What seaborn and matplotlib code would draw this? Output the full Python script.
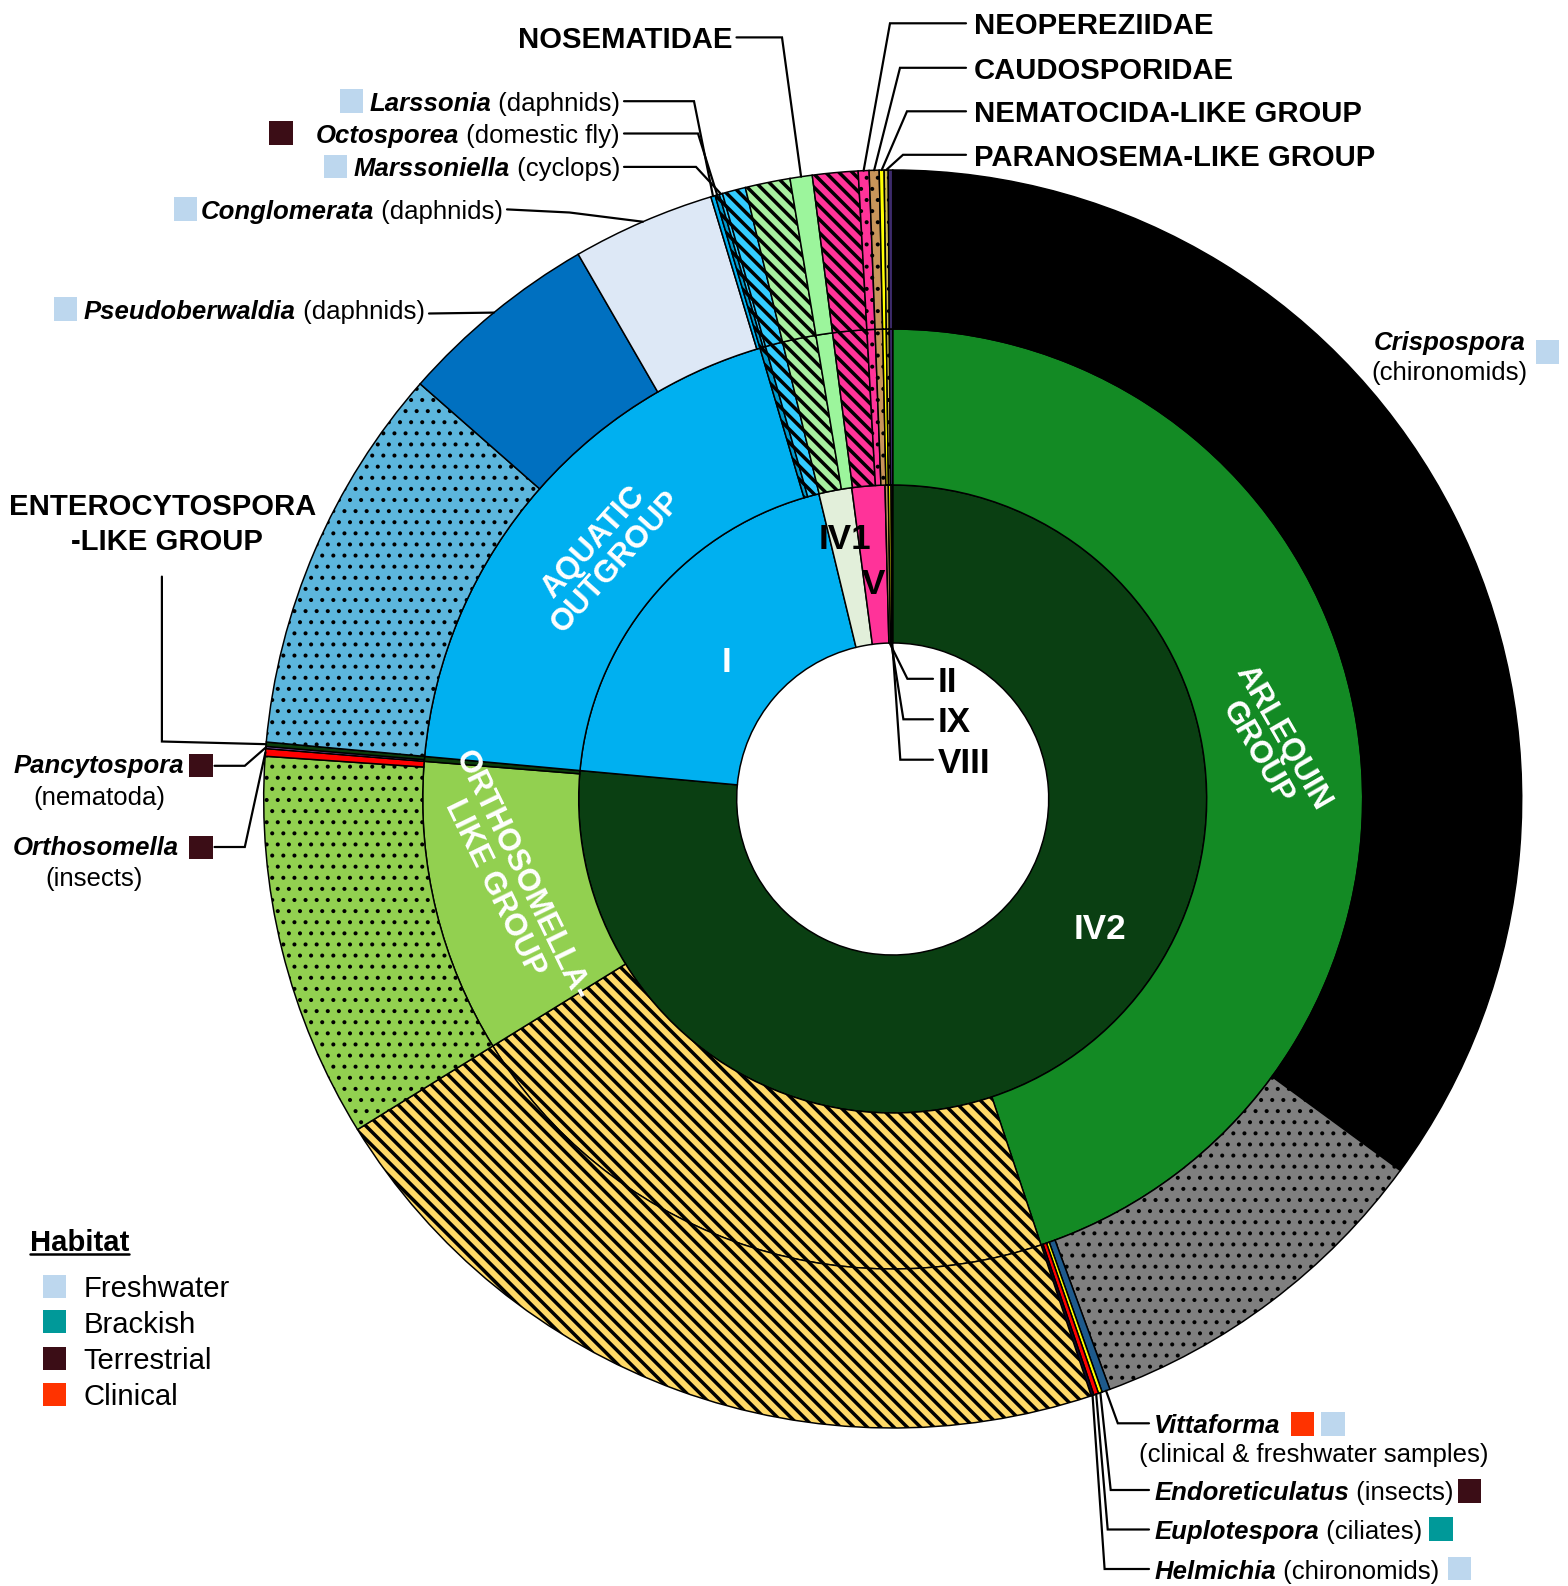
import numpy as np
import matplotlib.pyplot as plt
import seaborn as sns
from matplotlib.patches import Rectangle

# ---- data: slice widths in degrees, clockwise from 12 o'clock ----
inner_labels = ['IV2', 'I', 'IV1', 'V', 'II', 'IX', 'VIII']
inner_deg = [275.2, 71.2, 6.1, 6.1, 0.6, 0.5, 0.3]

middle_labels = ['ARLEQUIN GROUP', 'Yellow', 'ORTHOSOMELLA-LIKE GROUP',
                 'ENTEROCYTOSPORA-LIKE GROUP', 'AQUATIC OUTGROUP', 'Octosporea',
                 'Cyan', 'Green', 'NOSEMATIDAE', 'Pink', 'NEOPEREZIIDAE',
                 'CAUDOSPORIDAE', 'NEMATOCIDA-LIKE GROUP', 'PARANOSEMA-LIKE GROUP', 'Other']
middle_deg = [161.6, 76.7, 36.3, 0.6, 68.4, 0.7, 2.15, 4.15, 2.05, 4.2,
              1.0, 0.92, 0.45, 0.37, 0.41]

outer_labels = ['Crispospora', 'Grey', 'Vittaforma', 'Endoreticulatus', 'Euplotespora',
                'Helmichia', 'Yellow', 'GreenDots', 'Orthosomella', 'Pancytospora',
                'Enterocytospora', 'BlueDots', 'Pseudoberwaldia', 'Conglomerata',
                'Larssonia', 'Octosporea', 'Marssoniella', 'Cyan', 'Green', 'NOSEMATIDAE',
                'Pink', 'NEOPEREZIIDAE', 'CAUDOSPORIDAE', 'NEMATOCIDA-LIKE GROUP',
                'PARANOSEMA-LIKE GROUP', 'Other']
outer_deg = [126.2, 33.6, 0.75, 0.35, 0.45, 0.25, 76.7, 35.6, 0.7, 0.2, 0.4, 36.1,
             18.7, 13.2, 0.4, 0.4, 0.3, 2.15, 4.15, 2.05, 4.2, 1.0, 0.92, 0.45, 0.37, 0.41]

habitat_names = ['Freshwater', 'Brackish', 'Terrestrial', 'Clinical']
habitat_colors = ['#bdd7ee', '#009999', '#3b0d16', '#ff3300']

family_labels = ['NEOPEREZIIDAE', 'CAUDOSPORIDAE', 'NEMATOCIDA-LIKE GROUP', 'PARANOSEMA-LIKE GROUP']

# ---- styles ----
ST = '\\' * 5
DT = '...'
inner_colors = ['#0a3f12', '#00b0f0', '#e2efda', '#ff3399', '#c8955a', '#ffff00', '#3d2b6b']
inner_hatch = [None] * 7
middle_colors = ['#138a24', '#ffd966', '#92d050', '#0b3d0b', '#00b0f0', '#0099cc', '#33ccff',
                 '#a8f0a0', '#9cf59c', '#ff3399', '#ff3399', '#c8955a', '#ffff00', '#d4c34a',
                 '#3d2b6b']
middle_hatch = [None, ST, None, None, None, ST, ST, ST, None, ST, DT, DT, None, DT, None]
outer_colors = ['#000000', '#7f7f7f', '#1e5a8c', '#ffff00', '#ff0000', '#0a0a3a', '#ffd966',
                '#92d050', '#ff0000', '#9966cc', '#0b3d0b', '#5cb6dd', '#0070c0', '#dde8f6',
                '#00b0f0', '#0099cc', '#33ccff', '#33ccff', '#a8f0a0', '#9cf59c', '#ff3399',
                '#ff3399', '#c8955a', '#ffff00', '#d4c34a', '#3d2b6b']
outer_hatch = [None, DT, None, None, None, None, ST, DT, None, None, None, DT, None, None,
               None, ST, ST, ST, ST, None, ST, DT, DT, None, DT, None]

W, H, DPI = 1568, 1586, 200
CX, CY = 892.7, H - 799.0
R0, R1, R2, R3 = 156, 314, 470, 629


def pt(px):
    return px * 72 / DPI


sns.set_theme(style='white')
plt.rcParams['font.family'] = ['Liberation Sans', 'DejaVu Sans']
plt.rcParams['text.color'] = 'black'
plt.rcParams['hatch.linewidth'] = pt(3.5)

fig = plt.figure(figsize=(W / DPI, H / DPI), dpi=DPI)
ax = fig.add_axes([0, 0, 1, 1])

rings = [(inner_deg, inner_colors, inner_hatch, R1, R0),
         (middle_deg, middle_colors, middle_hatch, R2, R1),
         (outer_deg, outer_colors, outer_hatch, R3, R2)]
for deg, cols, hat, ro, ri in rings:
    wedges, _ = ax.pie(deg, radius=ro, center=(CX, CY), startangle=90, counterclock=False,
                       colors=cols, wedgeprops=dict(width=ro - ri, edgecolor='black',
                                                    linewidth=pt(1.5)))
    for w, h in zip(wedges, hat):
        if h:
            w.set_hatch(h)
            if h == DT and hasattr(w, 'set_hatch_linewidth'):
                w.set_hatch_linewidth(pt(1.8))

ax.set_xlim(0, W)
ax.set_ylim(0, H)
ax.set_aspect('auto')
ax.axis('off')


def mid(labels, deg, name):
    i = labels.index(name)
    return sum(deg[:i]) + deg[i] / 2


def leader(pts, ang, r):
    xs = [p[0] for p in pts]
    ys = [H - p[1] for p in pts]
    a = np.radians(ang)
    xs.append(CX + r * np.sin(a))
    ys.append(CY + r * np.cos(a))
    ax.plot(xs, ys, color='black', lw=pt(2.2), solid_joinstyle='miter')


def txt(x, y, s, px, **kw):
    return ax.text(x, H - (y + 0.1 * px), s, fontsize=pt(px), va='center', **kw)


def square(x, y, color, s=23.5):
    ax.add_patch(Rectangle((x, H - y - s), s, s, facecolor=color, edgecolor='none'))


def after(t, s, px, side, **kw):
    # piece of text glued to the left or right of another text
    if side == 'left':
        return ax.annotate(s, xy=(0, 0.5), xycoords=t, ha='right', va='center',
                           fontsize=pt(px), **kw)
    return ax.annotate(s, xy=(1, 0.5), xycoords=t, ha='left', va='center',
                       fontsize=pt(px), **kw)


BI = dict(fontweight='bold', fontstyle='italic')
CAP = 29.3
SP = 25.8

# ---- family labels, top right ----
fam_y = [23.3, 67.8, 111.3, 154.8]
fam_elbow = [890, 900, 907, 903]
for name, y, ex in zip(family_labels, fam_y, fam_elbow):
    txt(974, y, name, CAP, fontweight='bold', ha='left')
    leader([(966, y), (ex, y)], mid(outer_labels, outer_deg, name), R3)

txt(732.4, 37.4, 'NOSEMATIDAE', CAP, fontweight='bold', ha='right')
leader([(736.5, 37.4), (782, 37.4)], mid(outer_labels, outer_deg, 'NOSEMATIDAE'), R3)

# ---- genera, top left ----
left_genera = ['Larssonia', 'Octosporea', 'Marssoniella', 'Conglomerata', 'Pseudoberwaldia']
left_hosts = [' (daphnids)', ' (domestic fly)', ' (cyclops)', ' (daphnids)', ' (daphnids)']
left_habitat = ['Freshwater', 'Terrestrial', 'Freshwater', 'Freshwater', 'Freshwater']
left_pos = [(620, 101.2), (620, 133.5), (620, 166.9), (502.8, 209.4), (424.9, 309.6)]
left_sq = [(339.9, 89), (269.1, 121.4), (323.7, 154.8), (174, 197.3), (53.6, 297.4)]
left_lead = [[(624, 101.2), (694, 101.2)], [(624, 133.5), (698, 133.5)],
             [(624, 166.9), (696, 166.9)], [(507, 209.4), (569.5, 212.5)],
             [(429, 313.5)]]
for g, h, hab, (x, y), (sx, sy), lp in zip(left_genera, left_hosts, left_habitat,
                                           left_pos, left_sq, left_lead):
    t = txt(x, y, h, SP, ha='right')
    after(t, g, SP, 'left', **BI)
    square(sx, sy, habitat_colors[habitat_names.index(hab)])
    leader(lp, mid(outer_labels, outer_deg, g), R3)

# Crispospora
txt(1525.5, 340, 'Crispospora', SP, ha='right', **BI)
txt(1449.6, 370.3, '(chironomids)', SP, ha='center')
square(1535.6, 340, habitat_colors[0])

# ---- left side ----
txt(162.4, 503.8, 'ENTEROCYTOSPORA', CAP, ha='center', fontweight='bold')
txt(166.9, 539.2, '-LIKE GROUP', CAP, ha='center', fontweight='bold')
leader([(161.9, 576.6), (161.9, 741.5)], mid(outer_labels, outer_deg, 'Enterocytospora'), R3)

txt(184, 763.8, 'Pancytospora', SP, ha='right', **BI)
txt(99, 795, '(nematoda)', SP, ha='center')
square(189.2, 753.6, habitat_colors[2])
leader([(214.5, 765.8), (244.8, 765.8)], mid(outer_labels, outer_deg, 'Pancytospora'), R3)

txt(179, 845.7, 'Orthosomella', SP, ha='right', **BI)
txt(94, 876, '(insects)', SP, ha='center')
square(189.2, 835.6, habitat_colors[2])
leader([(214.5, 847), (244.8, 847)], mid(outer_labels, outer_deg, 'Orthosomella'), R3)

# ---- bottom right genera ----
txt(1154.2, 1423.3, 'Vittaforma', SP, ha='left', **BI)
txt(1139, 1452.7, '(clinical & freshwater samples)', SP, ha='left')
square(1290.8, 1412.2, habitat_colors[3])
square(1321.2, 1412.2, habitat_colors[0])
leader([(1149, 1423.3), (1117.8, 1423.3)], mid(outer_labels, outer_deg, 'Vittaforma'), R3)

low_genera = ['Endoreticulatus', 'Euplotespora', 'Helmichia']
low_hosts = [' (insects)', ' (ciliates)', ' (chironomids)']
low_habitat = ['Terrestrial', 'Brackish', 'Freshwater']
low_y = [1490, 1529.5, 1569]
low_sq = [(1457.8, 1479), (1429.4, 1517.4), (1447.6, 1556.9)]
low_elbow = [1110.7, 1107.7, 1104.6]
for g, h, hab, y, (sx, sy), ex in zip(low_genera, low_hosts, low_habitat, low_y, low_sq,
                                      low_elbow):
    t = txt(1154.2, y, g, SP, ha='left', **BI)
    after(t, h, SP, 'right')
    square(sx, sy, habitat_colors[habitat_names.index(hab)])
    leader([(1149, y), (ex, y)], mid(outer_labels, outer_deg, g), R3)

# ---- ring labels ----
NUM = 35
txt(726.3, 658.6, 'I', NUM, ha='center', color='white', fontweight='bold')
txt(844.7, 536.2, 'IV1', NUM, ha='center', fontweight='bold')
txt(873, 580.7, 'V', NUM, ha='center', fontweight='bold')
txt(1099.6, 925.6, 'IV2', NUM, ha='center', color='white', fontweight='bold')
for name, y, ex in zip(['II', 'IX', 'VIII'], [678.8, 719.3, 759.7], [907.4, 903.4, 900.3]):
    txt(938, y, name, NUM, ha='left', fontweight='bold')
    leader([(933, y), (ex, y)], mid(inner_labels, inner_deg, name), R0)

GRP = 31
for s, (x, y), rot in [('AQUATIC\nOUTGROUP', (605, 552), 48),
                       ('ARLEQUIN\nGROUP', (1269.6, 745.6), -60),
                       ('ORTHOSOMELLA-\nLIKE GROUP', (508, 882), -64)]:
    ax.text(x, H - y, s, fontsize=pt(GRP), color='white', fontweight='bold', ha='center',
            va='center', rotation=rot, rotation_mode='anchor', multialignment='center',
            linespacing=1.0)

# ---- habitat legend ----
txt(30.3, 1240, 'Habitat', CAP, ha='left', fontweight='bold')
ax.plot([30.3, 129.5], [H - 1253.5, H - 1253.5], color='black', lw=pt(2.5))
for name, col, y in zip(habitat_names, habitat_colors, [1286, 1321.7, 1358, 1394]):
    square(43.5, y - 11.5, col, 23)
    txt(83.3, y, name, CAP, ha='left')

fig.savefig('out.png', dpi=DPI, facecolor='white')
